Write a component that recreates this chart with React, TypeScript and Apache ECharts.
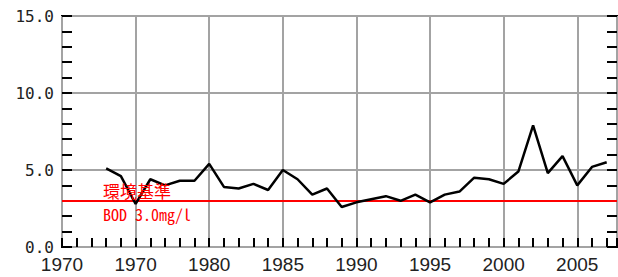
import React, { useEffect, useRef } from "react";
import * as echarts from "echarts";

const years = [1973, 1974, 1975, 1976, 1977, 1978, 1979, 1980, 1981, 1982, 1983, 1984, 1985, 1986, 1987, 1988, 1989, 1990, 1991, 1992, 1993, 1994, 1995, 1996, 1997, 1998, 1999, 2000, 2001, 2002, 2003, 2004, 2005, 2006, 2007];
const bodValues = [5.1, 4.6, 2.8, 4.4, 4.0, 4.3, 4.3, 5.4, 3.9, 3.8, 4.1, 3.7, 5.0, 4.4, 3.4, 3.8, 2.6, 2.9, 3.1, 3.3, 3.0, 3.4, 2.9, 3.4, 3.6, 4.5, 4.4, 4.1, 4.9, 7.9, 4.8, 5.9, 4.0, 5.2, 5.5];
const xTickLabels = ["1970", "1970", "1980", "1985", "1990", "1995", "2000", "2005"];
const yTickLabels = ["0.0", "5.0", "10.0", "15.0"];
const standardValue = 3.0;
const standardLabel1 = "環境基準";
const standardLabel2 = "BOD 3.0mg/l";

const FONT = "'Noto Sans Mono CJK JP', 'Liberation Mono', monospace";
const X_FONT = "'Liberation Sans Narrow', 'Liberation Sans', sans-serif";
const Y_FONT = "'DejaVu Sans Mono', 'Liberation Mono', monospace";

export default function App() {
  const ref = useRef<HTMLDivElement>(null);
  useEffect(() => {
    document.body.style.margin = "0";
    const chart = echarts.init(ref.current!, null, { renderer: "svg" });
    const X_MIN = 1970;
    const X_MAX = 2007.7;
    const grid = { left: 62, top: 16, width: 555, height: 231 };
    chart.setOption({
      animation: false,
      backgroundColor: "#fff",
      grid: { ...grid, show: true, borderColor: "#000", borderWidth: 2, backgroundColor: "transparent", containLabel: false },
      xAxis: [
        {
          type: "value",
          min: X_MIN,
          max: X_MAX,
          interval: 5,
          position: "bottom",
          axisLine: { show: false },
          axisTick: { show: false },
          splitLine: { show: true, lineStyle: { color: "#a3a3a3", width: 2 } },
          axisLabel: {
            showMaxLabel: false,
            margin: 10,
            color: "#222",
            fontFamily: X_FONT,
            fontSize: 19,
            lineHeight: 15,
            formatter: (v: number) => {
              const k = (v - 1970) / 5;
              return Number.isInteger(Math.round(k * 1000) / 1000) ? xTickLabels[Math.round(k)] ?? "" : "";
            },
          },
        },
        {
          type: "value",
          min: X_MIN,
          max: X_MAX,
          interval: 1,
          position: "bottom",
          axisLine: { show: false },
          axisTick: { show: true, inside: true, length: 9, lineStyle: { color: "#000", width: 2 } },
          splitLine: { show: false },
          axisLabel: { show: false },
        },
      ],
      yAxis: [
        {
          type: "value",
          min: 0,
          max: 15,
          interval: 5,
          position: "left",
          axisLine: { show: false },
          axisTick: { show: true, inside: true, length: 10, lineStyle: { color: "#000", width: 2 } },
          minorTick: { show: true, splitNumber: 5, length: 10, lineStyle: { color: "#000", width: 2 } },
          splitLine: { show: true, lineStyle: { color: "#a3a3a3", width: 2 } },
          axisLabel: {
            margin: 8,
            color: "#222",
            fontFamily: Y_FONT,
            fontSize: 16,
            lineHeight: 13,
            padding: [0, 0, 4, 0],
            formatter: (v: number) => yTickLabels[Math.round(v / 5)] ?? "",
          },
        },
        {
          type: "value",
          min: 0,
          max: 15,
          interval: 5,
          position: "right",
          axisLine: { show: false },
          axisTick: { show: true, inside: true, length: 10, lineStyle: { color: "#000", width: 2 } },
          minorTick: { show: true, splitNumber: 5, length: 10, lineStyle: { color: "#000", width: 2 } },
          splitLine: { show: false },
          axisLabel: { show: false },
        },
      ],
      series: [
        {
          type: "line",
          xAxisIndex: 0,
          yAxisIndex: 0,
          data: years.map((y, i) => [y, bodValues[i]]),
          showSymbol: false,
          symbol: "none",
          lineStyle: { color: "#000", width: 2.5 },
          z: 3,
          markLine: {
            silent: true,
            symbol: ["none", "none"],
            label: { show: false },
            lineStyle: { color: "#ff0000", width: 2, type: "solid" },
            data: [{ yAxis: standardValue }],
            z: 2,
          },
        },
      ],
      graphic: [
        {
          type: "text",
          left: 103,
          top: 182,
          style: { text: standardLabel1, fill: "#ff0000", font: `17px ${FONT}` },
          z: 10,
        },
        {
          type: "text",
          left: 103,
          top: 206,
          style: { text: standardLabel2, fill: "#ff0000", font: `16px ${FONT}` },
          z: 10,
        },
      ],
    });
    return () => chart.dispose();
  }, []);
  return <div ref={ref} style={{ width: 618, height: 277 }} />;
}
